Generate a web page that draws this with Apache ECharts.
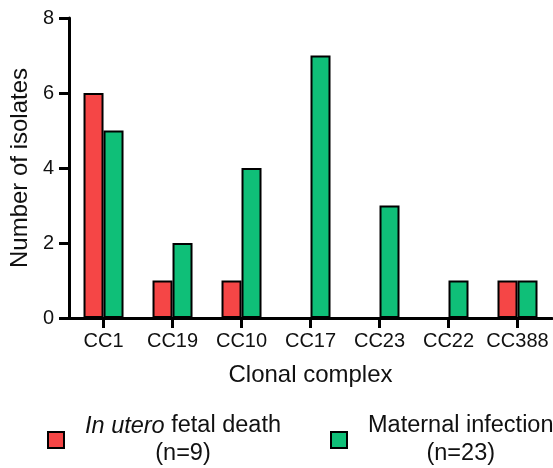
<!DOCTYPE html>
<html>
<head>
<meta charset="utf-8">
<script src="https://cdn.jsdelivr.net/npm/echarts@6/dist/echarts.min.js"></script>
<style>
  html, body { margin: 0; padding: 0; background: #fff; }
  #chart { width: 553px; height: 468px; }
</style>
</head>
<body>
<div id="chart"></div>
<script>
// data
const categories = ['CC1', 'CC19', 'CC10', 'CC17', 'CC23', 'CC22', 'CC388']
const fetalDeath = [6, 1, 1, 0, 0, 0, 1]
const maternalInfection = [5, 2, 4, 7, 3, 1, 1]
const yTicks = [0, 2, 4, 6, 8]
const seriesNames = ['In utero fetal death', 'Maternal infection']
const seriesCounts = ['(n=9)', '(n=23)']

const font = "'Liberation Sans', Arial, sans-serif"
const ink = '#111'

const chart = echarts.init(document.getElementById('chart'), null, { renderer: 'canvas' })

function legendText(name) {
  const idx = seriesNames.indexOf(name)
  const count = '{c|' + seriesCounts[idx] + '}'
  if (name.indexOf('In utero') === 0) {
    return '{i|In utero} fetal death\n' + count
  }
  return name + '\n' + count
}

// one legend per series so each sits where it does in the figure
function makeLegend(name, left) {
  return {
    left: left,
    top: 412,
    padding: 0,
    itemWidth: 16,
    itemHeight: 16,
    icon: 'rect',
    data: [name],
    formatter: legendText,
    textStyle: {
      fontFamily: font,
      fontSize: 23.5,
      lineHeight: 28,
      color: ink,
      padding: [0, 0, 0, 16],
      rich: {
        i: { fontStyle: 'italic', fontSize: 23.5, lineHeight: 28, fontFamily: font, color: ink },
        c: { align: 'center', fontSize: 23.5, lineHeight: 28, fontFamily: font, color: ink }
      }
    }
  }
}

chart.setOption({
  backgroundColor: '#fff',
  animation: false,
  textStyle: { fontFamily: font, color: ink },
  grid: {
    left: 69,
    right: 1,
    top: 18,
    bottom: 150,
    containLabel: false
  },
  legend: [
    makeLegend(seriesNames[0], 47),
    makeLegend(seriesNames[1], 330)
  ],
  xAxis: {
    type: 'category',
    data: categories,
    name: 'Clonal complex',
    nameLocation: 'middle',
    nameGap: 45,
    nameTextStyle: { fontFamily: font, fontSize: 24, color: ink },
    axisLine: { show: true, lineStyle: { color: '#000', width: 3 } },
    axisTick: { show: true, alignWithLabel: true, length: 10, lineStyle: { color: '#000', width: 3 } },
    axisLabel: { fontFamily: font, fontSize: 20, color: ink, margin: 13, interval: 0 },
    splitLine: { show: false }
  },
  yAxis: {
    type: 'value',
    min: yTicks[0],
    max: yTicks[yTicks.length - 1],
    interval: yTicks[1] - yTicks[0],
    name: 'Number of isolates',
    nameLocation: 'middle',
    nameGap: 28,
    nameTextStyle: { fontFamily: font, fontSize: 24, color: ink },
    axisLine: { show: true, lineStyle: { color: '#000', width: 3 } },
    axisTick: { show: true, length: 10, lineStyle: { color: '#000', width: 3 } },
    axisLabel: { fontFamily: font, fontSize: 20, color: ink, margin: 15 },
    splitLine: { show: false }
  },
  series: [
    {
      name: seriesNames[0],
      type: 'bar',
      data: fetalDeath,
      barWidth: 20,
      barGap: '0%',
      itemStyle: { color: '#F54646', borderColor: '#000', borderWidth: 2 }
    },
    {
      name: seriesNames[1],
      type: 'bar',
      data: maternalInfection,
      barWidth: 20,
      barGap: '0%',
      itemStyle: { color: '#0FBF78', borderColor: '#000', borderWidth: 2 }
    }
  ]
})
</script>
</body>
</html>
